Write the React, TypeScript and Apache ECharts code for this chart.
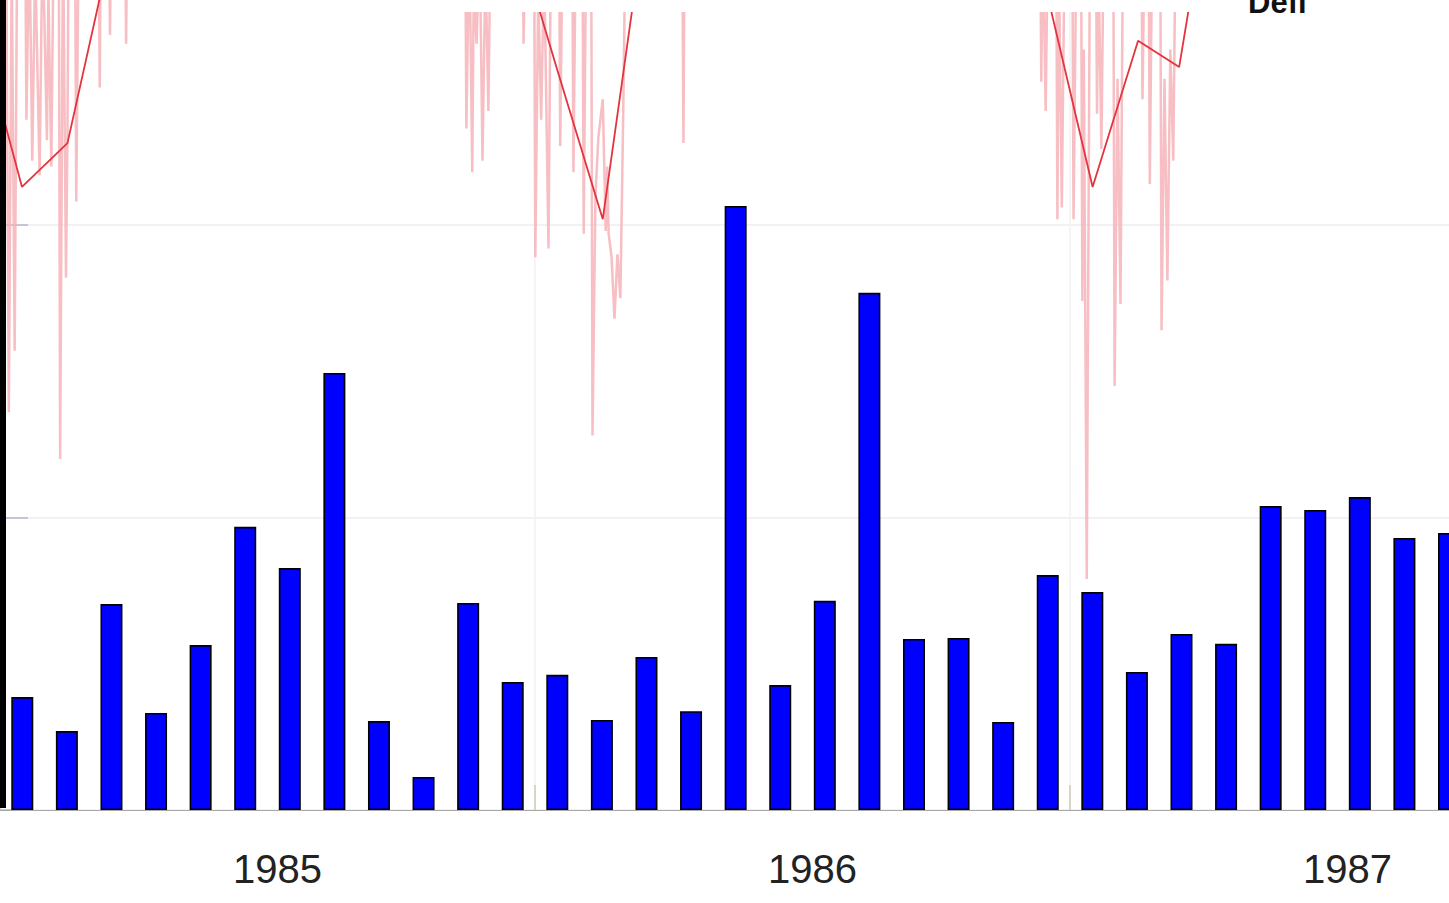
import React, { useEffect, useRef } from "react";
import * as echarts from "echarts";

// Monthly categories (one bar per month)
const MONTHS = [
  "1985-01", "1985-02", "1985-03", "1985-04", "1985-05", "1985-06",
  "1985-07", "1985-08", "1985-09", "1985-10", "1985-11", "1985-12",
  "1986-01", "1986-02", "1986-03", "1986-04", "1986-05", "1986-06",
  "1986-07", "1986-08", "1986-09", "1986-10", "1986-11", "1986-12",
  "1987-01", "1987-02", "1987-03", "1987-04", "1987-05", "1987-06",
  "1987-07", "1987-08", "1987-09",
];

const BAR_VALUES = [
  0.386, 0.27, 0.704, 0.332, 0.564, 0.968, 0.827, 1.494, 0.304, 0.113, 0.708, 0.438,
  0.462, 0.308, 0.523, 0.338, 2.065, 0.427, 0.715, 1.768, 0.585, 0.588, 0.301, 0.803,
  0.745, 0.472, 0.602, 0.568, 1.039, 1.026, 1.07, 0.93, 0.947,
];

// Monthly red line (values above ~2.77 are off the top of the visible area)
const LINE_MONTHS = [
  "1984-12",
  "1985-01", "1985-02", "1985-03", "1985-04", "1985-05", "1985-06",
  "1985-07", "1985-08", "1985-09", "1985-10", "1985-11", "1985-12",
  "1986-01", "1986-02", "1986-03", "1986-04", "1986-05", "1986-06",
  "1986-07", "1986-08", "1986-09", "1986-10", "1986-11", "1986-12",
  "1987-01", "1987-02", "1987-03", "1987-04", "1987-05", "1987-06",
  "1987-07", "1987-08", "1987-09",
];
const LINE_VALUES = [
  2.71,
  2.13, 2.28, 2.91, 3.3, 3.5, 3.6, 3.5, 3.4, 3.5, 3.4, 3.3, 3.05,
  2.53, 2.02, 3.02, 3.4, 3.6, 3.5, 3.6, 3.4, 3.5, 3.4, 3.2, 2.79,
  2.13, 2.63, 2.54, 3.48, 3.6, 3.5, 3.6, 3.5, 3.4,
];

// Daily pink series: [day offset from 1985-01-01, value]
const PINK_WINTER_1985: [number, number][] = [
  [-2, 3.2], [4, 3.2], [6, 1.36], [8, 2.9], [10, 1.57], [12, 3.2],
  [17, 3.2], [18, 2.36], [20, 3.0], [22, 2.22], [24, 2.9], [27, 2.17], [29, 3.0],
  [32, 2.29], [33, 2.8], [35, 2.2], [37, 3.2],
  [40, 3.2], [41, 1.2], [43, 3.0], [45, 1.82], [46, 2.3], [47, 3.2],
  [51, 3.2], [52, 2.08], [54, 3.2],
  [67, 3.2], [68, 2.47], [69, 3.2],
  [74, 3.2], [75, 2.65], [76, 3.2],
  [85, 3.2], [86, 2.62], [87, 3.2],
];
const PINK_WINTER_1986: [number, number][] = [
  [317, 3.2], [318, 2.33], [320, 3.0], [322, 2.18], [323, 2.8], [325, 2.62], [327, 3.0],
  [329, 2.22], [331, 2.9], [333, 2.39], [335, 3.2],
  [356, 3.2], [357, 2.62], [359, 3.2],
  [364, 3.2], [365, 1.89], [367, 2.8], [369, 2.36], [371, 2.9], [374, 1.92], [376, 3.2],
  [381, 3.2], [382, 2.27], [384, 3.2],
  [390, 3.2], [391, 2.18], [393, 3.2],
  [397, 3.2], [398, 1.97], [400, 3.2],
  [403, 3.2], [404, 1.28], [406, 2.1], [408, 2.3], [411, 2.43], [413, 1.98], [414, 2.2],
  [415, 1.97], [417, 1.89], [419, 1.68], [421, 1.9], [423, 1.75], [425, 2.4], [427, 3.2],
  [465, 3.2], [466, 2.28], [467, 3.2],
];
const PINK_WINTER_1987: [number, number][] = [
  [709, 3.2], [710, 2.49], [711, 3.0], [713, 2.39], [715, 3.2],
  [720, 3.2], [721, 2.02], [722, 2.9], [724, 2.06], [726, 3.0],
  [731, 3.2], [732, 2.02], [734, 3.0],
  [737, 3.2], [738, 1.74], [739, 2.6], [741, 0.79], [743, 2.8],
  [747, 3.2], [748, 2.38], [749, 2.9], [751, 2.26], [753, 3.2],
  [759, 3.2], [760, 1.45], [762, 2.5], [764, 1.73], [766, 3.2],
  [778, 3.2], [779, 2.43], [781, 3.2],
  [783, 3.2], [784, 2.14], [786, 3.2],
  [791, 3.2], [792, 1.64], [794, 2.5], [796, 1.81], [798, 2.6], [800, 2.22], [802, 3.2],
  [810, 3.2],
];

const YEARS = ["1985", "1986", "1987"];
const LEGEND_TEXT = "Defl";

const monthTs = (ym: string) => {
  const [y, m] = ym.split("-").map(Number);
  return new Date(y, m - 1, 16).getTime();
};
const dayTs = (d: number) => new Date(1985, 0, 1 + d).getTime();

export default function App() {
  const ref = useRef<HTMLDivElement>(null);

  useEffect(() => {
    if (!ref.current) return;
    const chart = echarts.init(ref.current, undefined, { renderer: "svg" });

    const lineData = LINE_MONTHS.map((m, i) => [monthTs(m), LINE_VALUES[i]]);
    const pinkData = [...PINK_WINTER_1985, ...PINK_WINTER_1986, ...PINK_WINTER_1987].map(
      ([d, v]) => [dayTs(d), v]
    );

    const top = -67.5;
    const height = 877.5;
    const monthW = 1449 / 32.5;

    chart.setOption({
      animation: false,
      backgroundColor: "#ffffff",
      grid: [
        { left: 0, top, width: 1449, height, outerBoundsMode: "none", containLabel: false },
        { left: 0, top, width: 3 * 12 * monthW, height, outerBoundsMode: "none", containLabel: false },
        { left: 0, top, width: MONTHS.length * monthW, height, outerBoundsMode: "none", containLabel: false },
      ],
      xAxis: [
        {
          type: "time",
          gridIndex: 0,
          min: new Date(1985, 0, 1).getTime(),
          max: new Date(1987, 8, 16).getTime(),
          axisLabel: { show: false },
          axisTick: { show: false },
          splitLine: { show: false },
          axisLine: { show: true, lineStyle: { color: "#a8a8a8", width: 1 } },
          z: 5,
        },
        {
          type: "category",
          gridIndex: 1,
          data: YEARS,
          boundaryGap: true,
          axisLine: { show: false },
          axisTick: {
            show: true,
            inside: true,
            length: 25,
            lineStyle: { color: "#cfcbb4", width: 1.5 },
          },
          splitLine: { show: true, lineStyle: { color: "#f2f2f2", width: 1.5 } },
          axisLabel: {
            show: true,
            fontSize: 40,
            color: "#222222",
            fontFamily: '"Liberation Sans", Arial, sans-serif',
            margin: 39,
            padding: [0, 0, 0, 20],
          },
        },
        {
          type: "category",
          gridIndex: 2,
          data: MONTHS,
          boundaryGap: true,
          show: false,
        },
      ],
      yAxis: [
        {
          type: "value",
          gridIndex: 0,
          min: 0,
          max: 3,
          interval: 1,
          axisLine: { show: false },
          axisLabel: { show: false },
          axisTick: {
            show: true,
            inside: true,
            length: 28,
            lineStyle: { color: "#bab3cc", width: 1.5 },
          },
          splitLine: { show: true, lineStyle: { color: "#eeedf2", width: 1.5 } },
        },
        { type: "value", gridIndex: 1, min: 0, max: 3, show: false },
        { type: "value", gridIndex: 2, min: 0, max: 3, show: false },
      ],
      series: [
        {
          type: "line",
          xAxisIndex: 0,
          yAxisIndex: 0,
          data: pinkData,
          showSymbol: false,
          symbol: "none",
          lineStyle: { color: "#f6b3b8", width: 2.5, opacity: 0.85 },
          z: 2,
          silent: true,
        },
        {
          type: "line",
          xAxisIndex: 0,
          yAxisIndex: 0,
          data: lineData,
          showSymbol: false,
          symbol: "none",
          lineStyle: { color: "#e3343e", width: 1.8 },
          z: 3,
          silent: true,
        },
        {
          type: "bar",
          xAxisIndex: 2,
          yAxisIndex: 2,
          data: BAR_VALUES,
          barWidth: 22,
          itemStyle: { color: "#0000ff", borderColor: "#000000", borderWidth: 1.6 },
          z: 4,
          silent: true,
        },
      ],
      graphic: [
        {
          type: "rect",
          shape: { x: 0, y: 0, width: 6, height: 808 },
          style: { fill: "#000000" },
          z: 100,
        },
        {
          type: "rect",
          shape: { x: 130, y: 0, width: 1105, height: 12 },
          style: { fill: "#ffffff" },
          z: 100,
        },
        {
          type: "text",
          x: 1248,
          y: 2,
          style: {
            text: LEGEND_TEXT,
            font: 'bold 31px "Liberation Sans", Arial, sans-serif',
            fill: "#111111",
            verticalAlign: "middle",
            align: "left",
          },
          z: 101,
        },
      ],
    });

    return () => chart.dispose();
  }, []);

  return (
    <div
      ref={ref}
      style={{ position: "fixed", left: 0, top: 0, width: "1449px", height: "903px" }}
    />
  );
}
